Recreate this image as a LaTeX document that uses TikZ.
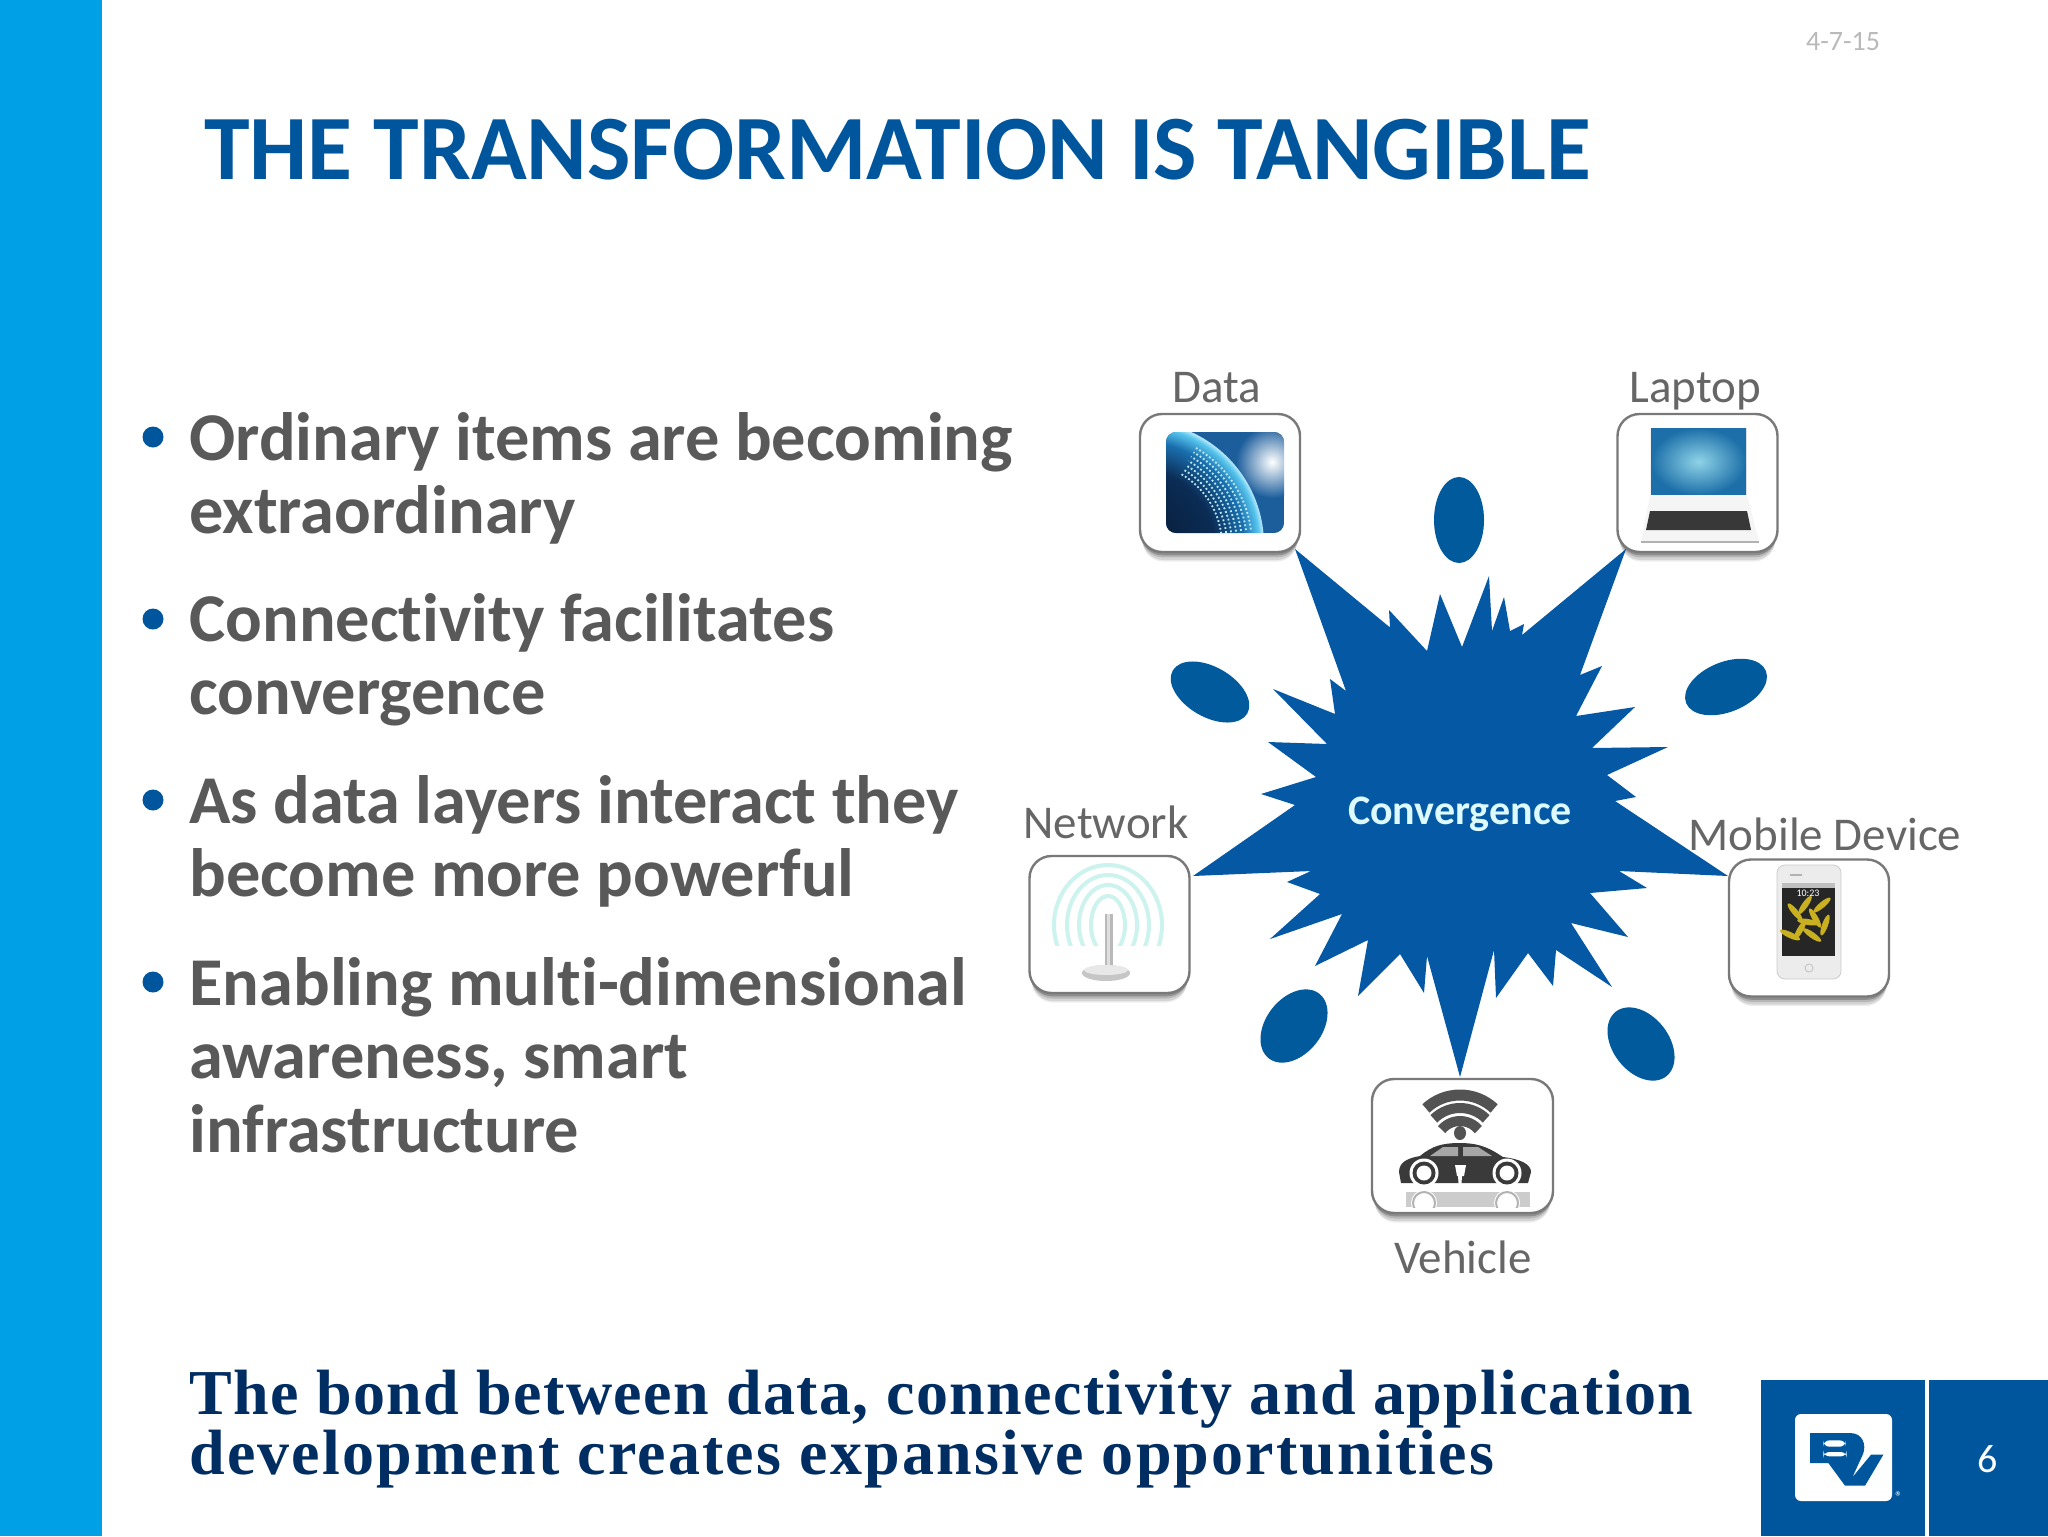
\documentclass[tikz,border=0pt]{standalone}
\usepackage{fontspec}
\setmainfont{Carlito}[Ligatures=NoCommon]
\newfontfamily\serifbold{Liberation Serif}
\newfontfamily\serifboldA{Liberation Serif}[LetterSpace=2.2]
\newfontfamily\serifboldB{Liberation Serif}[LetterSpace=3.4]
\usetikzlibrary{shadows}
\definecolor{barblue}{HTML}{00A0E6}
\definecolor{rvblue}{HTML}{00569C}
\definecolor{starblue}{HTML}{0558A3}
\definecolor{blobblue}{HTML}{005A9B}
\definecolor{bodygray}{HTML}{595959}
\definecolor{labelgray}{HTML}{666666}
\definecolor{navytext}{HTML}{002D62}
\definecolor{iceblue}{HTML}{DDFBFF}
\definecolor{ringteal}{HTML}{CDF3EE}
\definecolor{cargray}{HTML}{3A3A3A}
\definecolor{gnavy}{HTML}{071A33}
\definecolor{gdeep}{HTML}{0B2C55}
\definecolor{gmid}{HTML}{1A6FAE}
\definecolor{gcyan}{HTML}{58C6EE}
\definecolor{grim}{HTML}{BDEBFA}
\definecolor{skyedge}{HTML}{1C5E9C}
\definecolor{screencore}{HTML}{8FD3E8}
\definecolor{screenedge}{HTML}{1C6FA8}
\definecolor{leafgold}{HTML}{C9B020}
\pgfdeclareradialshading{globeball}{\pgfpoint{0bp}{0bp}}{color(0bp)=(gnavy); color(15bp)=(gdeep); color(21bp)=(gmid); color(24bp)=(gcyan); color(25bp)=(grim); color(50bp)=(grim)}
\tikzset{
  tile/.style={draw=gray!95!black,line width=1.2pt,fill=white,rounded corners=11pt,inner sep=0pt,
    general shadow={fill=black,opacity=.07,shadow yshift=-6pt,shadow scale=.97},
    general shadow={fill=black,opacity=.10,shadow yshift=-5pt,shadow scale=.975},
    general shadow={fill=black,opacity=.14,shadow yshift=-3.5pt,shadow scale=.98},
    general shadow={fill=black,opacity=.22,shadow yshift=-2pt,shadow scale=.99}},
  tilelabel/.style={font=\fontsize{23.5}{27}\selectfont,text=labelgray,anchor=base,inner sep=0pt},
  bullettext/.style={font=\fontsize{34.2}{36.7}\selectfont\bfseries,text=bodygray,anchor=north west,align=left,inner sep=0pt},
  bulletdot/.style={fill=rvblue,circle,minimum size=10.5pt,inner sep=0pt},
  blob/.style={fill=blobblue},
  boldline/.style={text=navytext,anchor=base west,inner sep=0pt},
  leaf/.style={fill=leafgold},
}
\begin{document}
\begin{tikzpicture}[x=0.5pt,y=-0.5pt]
\useasboundingbox (0,0) rectangle (2048,1536);
\fill[white] (0,0) rectangle (2048,1536);
\fill[barblue] (0,0) rectangle (102,1536);

% header
\node[font=\fontsize{14}{16}\selectfont,text=gray!55,anchor=base,inner sep=0pt] (datestamp) at (1843,51) {4-7-15};
\node[font=\fontsize{46}{52}\selectfont\bfseries,text=rvblue,anchor=base west,inner sep=0pt] (title) at (204,179) {THE TRANSFORMATION IS TANGIBLE};

% bullets
\node[bulletdot] (b1) at (153,437) {};
\node[bullettext] (t1) at (189,412) {Ordinary items are becoming\\extraordinary};
\node[bulletdot] (b2) at (153,619) {};
\node[bullettext] (t2) at (189,593) {Connectivity facilitates\\convergence};
\node[bulletdot] (b3) at (153,800) {};
\node[bullettext] (t3) at (189,775) {As data layers interact they\\become more powerful};
\node[bulletdot] (b4) at (153,982) {};
\node[bullettext] (t4) at (189,957) {Enabling multi-dimensional\\awareness, smart\\infrastructure};

% bottom statement
\node[boldline,font=\fontsize{32}{36}\serifboldA\bfseries\selectfont] (bond1) at (189,1414) {The bond between data, connectivity and application};
\node[boldline,font=\fontsize{32}{36}\serifboldB\bfseries\selectfont] (bond2) at (189,1474) {development creates expansive opportunities};

% footer
\fill[rvblue] (1761,1380) rectangle (1925,1536);
\fill[rvblue] (1929,1380) rectangle (2048,1536);
\fill[white,rounded corners=3pt] (1795,1414) rectangle (1892,1501);
\begin{scope}[shift={(1795,1414)},x=0.1667pt,y=-0.1667pt]
  \fill[rvblue] (45,57) -- (165,57) .. controls (205,57) and (214,95) .. (204,120) -- (172,190) -- (228,122) -- (265,122) -- (210,215) -- (150,215) -- (100,147) -- (45,147) -- cycle;
  \fill[white,rounded corners=3pt] (85,79) rectangle (152,98);
  \fill[white,rounded corners=3pt] (85,114) rectangle (155,127);
\end{scope}
\node[font=\fontsize{7}{8}\selectfont,text=white,inner sep=0pt] (regmark) at (1899,1497) {®};
\node[font=\fontsize{20}{24}\selectfont,text=white,anchor=base,inner sep=0pt] (pageno) at (1988,1472) {6};

% convergence burst
\fill[starblue] (1295,549) -- (1390,627.5) -- (1389,610) -- (1427,651) -- (1440,594) -- (1462,647) -- (1489,576) -- (1492,631) -- (1504,597) -- (1510,631) -- (1524,624) -- (1522,635) -- (1626,549) -- (1580,675) -- (1602,666) -- (1576,716) -- (1635,707) -- (1592,748) -- (1668,747) -- (1607,775) -- (1636,797) -- (1615,801) -- (1728,876) -- (1619,871) -- (1647,888) -- (1590,893) -- (1628,937) -- (1571,923) -- (1612,987) -- (1556,950) -- (1553,986) -- (1528,953) -- (1496,998) -- (1494,950) -- (1460,1077) -- (1427,956) -- (1424,993) -- (1400,954) -- (1358,996) -- (1368,940) -- (1315,966) -- (1342,914) -- (1270,939) -- (1320,894) -- (1287,882) -- (1311,871) -- (1193,876) -- (1295,805) -- (1261,794) -- (1316,777) -- (1268,742) -- (1327,744) -- (1273,689) -- (1335,714) -- (1330,679) -- (1346,691) -- cycle;
\node[font=\fontsize{21}{25}\selectfont\bfseries,text=iceblue,anchor=base,inner sep=0pt] (conv) at (1460,824) {Convergence};

% blobs
\fill[blob] (1459,520) ellipse [x radius=25,y radius=43];
\fill[blob,rotate around={-30:(1210,692)}] (1210,692) ellipse [x radius=43,y radius=25];
\fill[blob,rotate around={22:(1726,687)}] (1726,687) ellipse [x radius=43,y radius=25];
\fill[blob,rotate around={52:(1294,1026)}] (1294,1026) ellipse [x radius=41,y radius=28];
\fill[blob,rotate around={-52:(1641,1044)}] (1641,1044) ellipse [x radius=41,y radius=28];

% tiles
\node[tile,minimum width=80pt,minimum height=69pt] (datatile) at (1220,483) {};
\node[tile,minimum width=80pt,minimum height=69pt] (laptoptile) at (1697.5,483) {};
\node[tile,minimum width=80pt,minimum height=68.5pt] (networktile) at (1109.5,924.5) {};
\node[tile,minimum width=80pt,minimum height=68.5pt] (mobiletile) at (1809,928) {};
\node[tile,minimum width=90.5pt,minimum height=67pt] (vehicletile) at (1462.5,1146) {};

% labels
\node[tilelabel] (datalabel) at (1217,402) {Data};
\node[tilelabel] (laptoplabel) at (1695,402) {Laptop};
\node[tilelabel] (networklabel) at (1106,838) {Network};
\node[tilelabel] (mobilelabel) at (1825,850) {Mobile Device};
\node[tilelabel] (vehiclelabel) at (1463,1273) {Vehicle};

% data icon: globe
\begin{scope}
  \clip[rounded corners=5pt] (1166,432) rectangle (1284,533);
  \fill[skyedge] (1166,432) rectangle (1284,533);
  \shade[inner color=white,outer color=skyedge] (1272,462) circle (36);
  \shade[shading=globeball] (1140,545) circle (124);
  \foreach \r in {82,87,92,97,102,107,112}
    \draw[grim,line width=.9pt,dash pattern=on .9pt off 1.1pt] (1140,545) ++(-8:\r) arc[start angle=-8,end angle=-60,radius=\r];
\end{scope}

% laptop icon
\fill[gray!12] (1650,428) rectangle (1747,495);
\shade[inner color=screencore,outer color=screenedge] (1651,428) rectangle (1746,495);
\fill[gray!8] (1650,495) -- (1747,495) -- (1759,542) -- (1641,542) -- cycle;
\fill[black!78] (1650,511) -- (1747,511) -- (1751,530) -- (1646,530) -- cycle;
\draw[gray!60,line width=.8pt] (1641,542) -- (1759,542);

% network icon
\begin{scope}
  \clip (1040,860) rectangle (1180,945);
  \foreach \a/\b in {54/60,41/50,29/40,17/29}
    \draw[ringteal,line width=2pt] (1108,925) ellipse [x radius=\a,y radius=\b];
\end{scope}
\fill[gray!55] (1105,914) rectangle (1113,972);
\fill[gray!25] (1107,914) rectangle (1110,972);
\fill[gray!45] (1106,973) ellipse [x radius=24,y radius=8];
\fill[gray!18] (1106,970) ellipse [x radius=22,y radius=5];

% mobile icon
\fill[gray!15,rounded corners=4pt,draw=gray!40,line width=.4pt] (1777,865) rectangle (1841,979);
\fill[black!85] (1782,883) rectangle (1835,956);
\fill[gray!50] (1782,883) rectangle (1835,888);
\fill[gray!60] (1790,874) rectangle (1802,876);
\foreach \p/\q/\r in {1795/912/40,1805/905/-35,1815/918/30,1822/905/-50,1800/930/-30,1812/935/55,1825/925/-20,1790/935/65,1808/922/80}
  \fill[leaf,rotate around={\r:(\p,\q)}] (\p,\q) ellipse [x radius=3,y radius=11];
\node[font=\fontsize{5}{6}\selectfont,text=white,inner sep=0pt] (clocktext) at (1808,893) {10:23};
\draw[gray!50,line width=.4pt] (1809,968) circle (4);

% vehicle icon: wifi arcs
\foreach \r/\w/\s in {50/5.5/227,37/5/225,24/5/220}{
  \pgfmathsetmacro{\ee}{540-\s}
  \draw[gray!65!black,line width=\w pt] (1460,1145) ++(\s:\r) arc[start angle=\s,end angle=\ee,radius=\r];
}
\fill[gray!65!black] (1460,1133) ellipse [x radius=6,y radius=7];
% vehicle icon: car
\fill[cargray] (1399,1172) .. controls (1399,1162) and (1408,1158) .. (1420,1156) .. controls (1432,1146) and (1442,1143) .. (1460,1143) .. controls (1482,1143) and (1492,1150) .. (1503,1157) .. controls (1520,1159) and (1531,1164) .. (1531,1172) -- (1528,1183) -- (1401,1183) -- cycle;
\fill[gray!70] (1430,1156) -- (1443,1147) -- (1458,1147) -- (1458,1156) -- cycle;
\fill[gray!70] (1463,1147) -- (1478,1147) -- (1492,1156) -- (1463,1156) -- cycle;
\foreach \wx in {1424,1507}{
  \fill[white] (\wx,1173) circle (14.5);
  \fill[cargray] (\wx,1173) circle (11.5);
  \fill[white] (\wx,1173) circle (7.5);
}
\fill[white] (1455,1165) -- (1466,1165) -- (1464,1176) -- (1462,1176) -- (1461,1190) -- (1459,1190) -- (1458,1176) -- (1457,1176) -- cycle;
\fill[gray!40] (1406,1192) rectangle (1530,1207);
\begin{scope}
  \clip (1400,1190) rectangle (1535,1207);
  \foreach \wx in {1424,1507}{
    \fill[white] (\wx,1203) circle (13);
    \draw[gray!60,line width=1pt] (\wx,1203) circle (11);
  }
\end{scope}
\end{tikzpicture}
\end{document}
